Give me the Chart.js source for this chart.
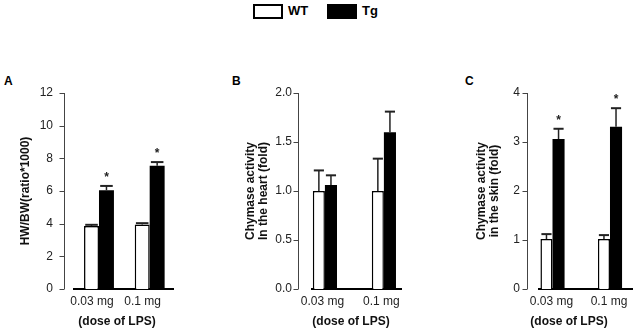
<!DOCTYPE html>
<html>
<head>
<meta charset="utf-8">
<script src="https://cdn.jsdelivr.net/npm/chart.js@4/dist/chart.umd.min.js"></script>
<style>
  body { margin: 0; background: #fff; font-family: 'Liberation Sans', Arial, sans-serif; }
  #wrap { position: relative; width: 635px; height: 330px; overflow: hidden; }
  canvas { position: absolute; top: 0; }
  .box { position: absolute; top: 4px; width: 26px; height: 11px; border: 2px solid #000; }
  .lbl { position: absolute; top: 3px; font-weight: bold; font-size: 13px; line-height: 16px; color: #000; }
  .letter { position: absolute; top: 74px; font-weight: bold; font-size: 12px; color: #000; }
  .xtitle { position: absolute; top: 314px; font-weight: bold; font-size: 12px; line-height: 15px; color: #111; transform: translateX(-50%); white-space: nowrap; }
</style>
</head>
<body>
<div id="wrap">
  <div class="box" style="left:253px; background:#fff"></div>
  <div class="lbl" style="left:288px">WT</div>
  <div class="box" style="left:327px; background:#000"></div>
  <div class="lbl" style="left:362px">Tg</div>

  <div class="letter" style="left:4px">A</div>
  <div class="letter" style="left:232px">B</div>
  <div class="letter" style="left:465px">C</div>

  <canvas id="chartA" width="200" height="330" style="left:0px"></canvas>
  <canvas id="chartB" width="210" height="330" style="left:210px"></canvas>
  <canvas id="chartC" width="215" height="330" style="left:420px"></canvas>

  <div class="xtitle" style="left:117px">(dose of LPS)</div>
  <div class="xtitle" style="left:351px">(dose of LPS)</div>
  <div class="xtitle" style="left:569px">(dose of LPS)</div>
</div>
<script>
// data
const doses = ['0.03 mg', '0.1 mg'];

const hwbwWT = [3.85, 3.95];
const hwbwWTErr = [0.08, 0.08];
const hwbwTg = [6.05, 7.55];
const hwbwTgErr = [0.26, 0.22];
const hwbwSig = [true, true];

const heartWT = [1.0, 1.0];
const heartWTErr = [0.21, 0.33];
const heartTg = [1.06, 1.6];
const heartTgErr = [0.1, 0.21];
const heartSig = [false, false];

const skinWT = [1.02, 1.02];
const skinWTErr = [0.1, 0.08];
const skinTg = [3.06, 3.31];
const skinTgErr = [0.21, 0.38];
const skinSig = [true, true];

Chart.defaults.font.family = "'Liberation Sans', Arial, sans-serif";
Chart.defaults.color = '#222';

// y axis line drawn a little left of the plot, like the original figure
const detachedAxis = {
    id: 'detachedAxis',
    afterDraw(chart, args, opts) {
        const { ctx, chartArea } = chart;
        const y = chart.scales.y;
        const x = Math.round(chartArea.left - opts.gap) + 0.5;
        ctx.save();
        ctx.strokeStyle = '#444';
        ctx.lineWidth = 1;
        ctx.beginPath();
        ctx.moveTo(x, y.getPixelForValue(y.max));
        ctx.lineTo(x, y.getPixelForValue(y.min));
        y.ticks.forEach(t => {
            const py = Math.round(y.getPixelForValue(t.value)) + 0.5;
            ctx.moveTo(x - 5, py);
            ctx.lineTo(x, py);
        });
        ctx.stroke();
        ctx.restore();
    }
};

const errorBars = {
    id: 'errorBars',
    afterDatasetsDraw(chart) {
        const { ctx } = chart;
        const y = chart.scales.y;
        chart.data.datasets.forEach((ds, di) => {
            const meta = chart.getDatasetMeta(di);
            meta.data.forEach((bar, i) => {
                const top = y.getPixelForValue(ds.data[i].y + ds.errors[i]);
                const half = bar.width * 0.42;
                ctx.save();
                ctx.strokeStyle = '#222';
                ctx.lineWidth = 1.5;
                ctx.beginPath();
                ctx.moveTo(bar.x, bar.y);
                ctx.lineTo(bar.x, top);
                ctx.stroke();
                ctx.lineWidth = 2;
                ctx.beginPath();
                ctx.moveTo(bar.x - half, top);
                ctx.lineTo(bar.x + half, top);
                ctx.stroke();
                if (ds.stars && ds.stars[i]) {
                    ctx.fillStyle = '#222';
                    ctx.font = "bold 12px 'Liberation Sans', Arial, sans-serif";
                    ctx.textAlign = 'center';
                    ctx.textBaseline = 'alphabetic';
                    ctx.fillText('*', bar.x, top - 5);
                }
                ctx.restore();
            });
        });
    }
};

function points(vals) {
    return vals.map((v, i) => ({ x: i + 1, y: v }));
}

function makeChart(id, p) {
    return new Chart(document.getElementById(id), {
        type: 'bar',
        data: {
            datasets: [{
                label: 'WT',
                data: points(p.wt),
                errors: p.wtErr,
                backgroundColor: '#fff',
                borderColor: '#000',
                borderWidth: 1.5,
                categoryPercentage: p.catPct,
                barPercentage: 1
            }, {
                label: 'Tg',
                data: points(p.tg),
                errors: p.tgErr,
                stars: p.sig,
                backgroundColor: '#000',
                borderWidth: 0,
                categoryPercentage: p.catPct,
                barPercentage: 1
            }]
        },
        options: {
            responsive: false,
            animation: false,
            layout: { padding: { top: 93, left: 0, right: p.padRight, bottom: 0 } },
            plugins: {
                legend: { display: false },
                tooltip: { enabled: false },
                detachedAxis: { gap: p.gap }
            },
            scales: {
                x: {
                    type: 'linear',
                    offset: false,
                    min: p.xMin,
                    max: p.xMax,
                    grid: { display: false, drawTicks: false },
                    border: { color: '#000', width: 2 },
                    afterBuildTicks: s => { s.ticks = doses.map((d, i) => ({ value: i + 1 })); },
                    ticks: {
                        font: { size: 12 },
                        padding: 5,
                        labelOffset: p.labelShift,
                        callback: v => doses[v - 1]
                    },
                    afterFit: s => { s.height = 41; }
                },
                y: {
                    min: 0,
                    max: p.yMax,
                    grid: { display: false, drawTicks: false },
                    border: { display: false },
                    ticks: {
                        stepSize: p.yStep,
                        font: { size: 12 },
                        padding: p.tickPad,
                        callback: v => v.toFixed(p.decimals)
                    },
                    title: {
                        display: true,
                        text: p.title,
                        font: { size: 12, weight: 'bold', lineHeight: 1.1 },
                        color: '#111',
                        padding: { top: p.titlePad, bottom: 0 }
                    },
                    afterFit: s => { s.width = p.axisWidth; }
                }
            }
        },
        plugins: [detachedAxis, errorBars]
    });
}

makeChart('chartA', {
    wt: hwbwWT, wtErr: hwbwWTErr, tg: hwbwTg, tgErr: hwbwTgErr, sig: hwbwSig,
    yMax: 12, yStep: 2, decimals: 0, title: 'HW/BW(ratio*1000)',
    xMin: 0.507, xMax: 2.46, catPct: 0.59,
    axisWidth: 74, padRight: 27, tickPad: 21, titlePad: 19, gap: 10, labelShift: -7
});

makeChart('chartB', {
    wt: heartWT, wtErr: heartWTErr, tg: heartTg, tgErr: heartTgErr, sig: heartSig,
    yMax: 2, yStep: 0.5, decimals: 1, title: ['Chymase activity', 'In the heart (fold)'],
    xMin: 0.781, xMax: 2.29, catPct: 0.41,
    axisWidth: 102, padRight: 19, tickPad: 20, titlePad: 34, gap: 14.5, labelShift: -2.5
});

makeChart('chartC', {
    wt: skinWT, wtErr: skinWTErr, tg: skinTg, tgErr: skinTgErr, sig: skinSig,
    yMax: 4, yStep: 1, decimals: 0, title: ['Chymase activity', 'in the skin (fold)'],
    xMin: 0.765, xMax: 2.383, catPct: 0.42,
    axisWidth: 119, padRight: 3, tickPad: 19, titlePad: 55, gap: 12.5, labelShift: -1
});
</script>
</body>
</html>
